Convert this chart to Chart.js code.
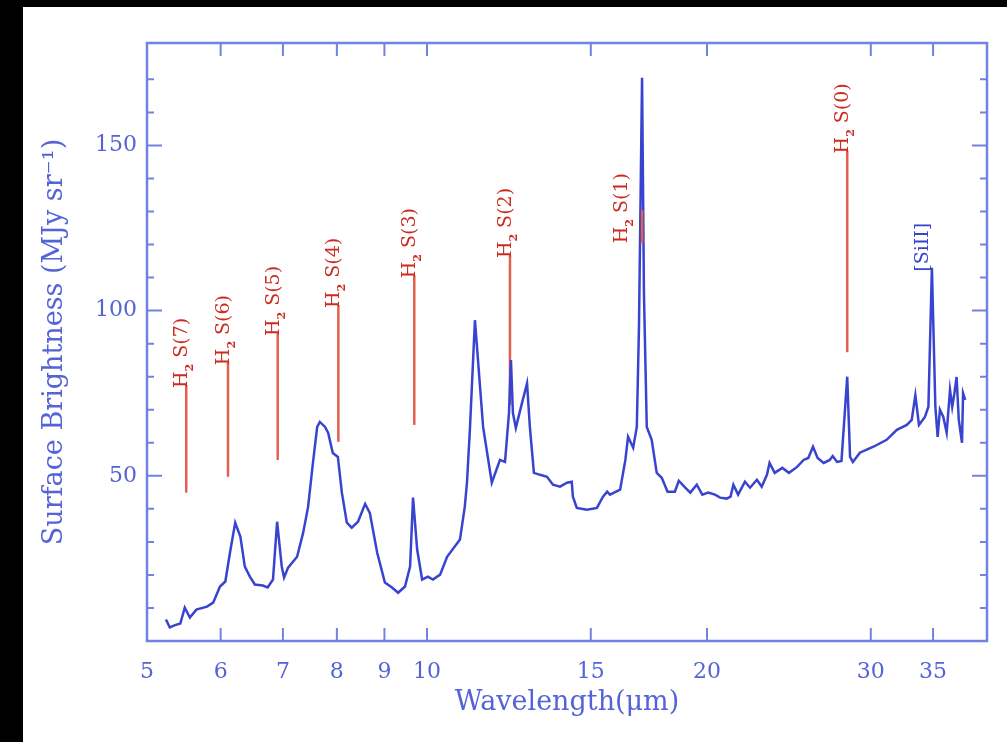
<!DOCTYPE html>
<html>
<head>
<meta charset="utf-8">
<script src="https://cdn.jsdelivr.net/npm/chart.js@4/dist/chart.umd.min.js"></script>
<style>
  html, body { margin: 0; padding: 0; background: #000; overflow: hidden; }
  #box { position: absolute; left: 23px; top: 7px; width: 984px; height: 735px; background: #fff; }
</style>
</head>
<body>
<div id="box"><canvas id="chart" width="984" height="735"></canvas></div>
<script>
// spectrum
const wavelength = [
  5.24, 5.29, 5.36, 5.43, 5.49, 5.56, 5.65, 5.80, 5.89, 5.99, 6.07, 6.14, 6.22, 6.30, 6.37, 6.45,
  6.53, 6.66, 6.74, 6.83, 6.90, 6.98, 7.02, 7.09, 7.25, 7.36, 7.45, 7.54, 7.62, 7.67, 7.77, 7.83,
  7.92, 8.02, 8.10, 8.20, 8.30, 8.43, 8.58, 8.68, 8.84, 9.01, 9.17, 9.31, 9.47, 9.59, 9.66, 9.76,
  9.88, 10.02, 10.15, 10.33, 10.51, 10.85, 10.98, 11.04, 11.12, 11.26, 11.49, 11.74, 11.98, 12.13,
  12.25, 12.31, 12.37, 12.46, 12.65, 12.81, 12.90, 13.03, 13.23, 13.46, 13.66, 13.90, 14.14, 14.31,
  14.35, 14.49, 14.86, 15.23, 15.46, 15.62, 15.73, 16.13, 16.34, 16.45, 16.66, 16.81, 16.90, 17.03,
  17.11, 17.23, 17.44, 17.66, 17.88, 18.14, 18.47, 18.65, 18.95, 19.19, 19.5, 19.77, 20.06, 20.4,
  20.66, 21.0, 21.2, 21.35, 21.6, 21.97, 22.25, 22.63, 22.9, 23.2, 23.35, 23.65, 24.1, 24.5, 25.0,
  25.4, 25.7, 26.0, 26.3, 26.7, 27.1, 27.3, 27.6, 27.9, 28.3, 28.5, 28.7, 29.2, 30.2, 31.2, 32.0,
  32.8, 33.2, 33.5, 33.8, 34.3, 34.6, 34.9, 35.2, 35.4, 35.6, 35.9, 36.2, 36.5, 36.7, 36.9, 37.1,
  37.3, 37.6, 37.7, 37.9
];
const brightness = [
  6.5, 4.1, 4.8, 5.3, 10.1, 7.1, 9.5, 10.4, 11.6, 16.5, 18.0, 26.7, 35.8, 31.6, 22.5, 19.5,
  17.1, 16.8, 16.2, 18.6, 36.1, 22.5, 19.2, 22.2, 25.5, 32.8, 40.6, 53.9, 64.8, 66.3, 64.8, 63.0,
  56.9, 55.7, 44.9, 35.8, 34.3, 36.1, 41.5, 38.8, 26.7, 17.7, 16.2, 14.6, 16.5, 22.5, 43.4, 27.6,
  18.6, 19.5, 18.6, 20.1, 25.5, 30.7, 40.6, 47.9, 63.9, 97.1, 64.8, 47.9, 54.8, 54.2,
  69, 85, 69, 64.5, 72, 78, 64.8, 50.9, 50.3, 49.7, 47.3, 46.7, 47.9, 48.2,
  43.7, 40.3, 39.7, 40.3, 43.7, 45.2, 44.3, 45.8, 54.8, 61.8, 58.5, 64.8, 95, 170.5,
  105, 64.8, 60.9, 50.9, 49.4, 45.2, 45.2, 48.5, 46.4, 44.9, 47.3, 44.3, 44.9, 44.3,
  43.4, 43.1, 43.7, 47.3, 44.3, 48.2, 46.4, 48.8, 46.7, 50.3, 53.9, 50.9, 52.4, 50.9, 52.7,
  54.8, 55.4, 58.8, 55.4, 53.9, 54.8, 56.0, 54.2, 54.5, 80, 55.7, 54.2, 57, 58.8, 60.9, 63.9,
  65.4, 66.9, 74.4, 65.4, 67.8, 70.9, 113, 70.9, 61.8, 70, 67.8, 63, 76, 70.9, 75, 79.9,
  67, 60, 75, 73
];

// H2 line markers
const h2Names = ['S(7)', 'S(6)', 'S(5)', 'S(4)', 'S(3)', 'S(2)', 'S(1)', 'S(0)'];
const h2Wave = [5.51, 6.11, 6.91, 8.03, 9.69, 12.28, 17.03, 28.3];
const h2Low = [44.9, 49.7, 54.8, 60.3, 65.4, 71.5, 120.4, 87.4];
const h2High = [77.5, 84.4, 93.2, 101.7, 110.7, 116.8, 130.4, 148.5];

const siiName = '[SiII]';
const siiWave = 34.9;
const siiTop = 113;

const xTicks = [5, 6, 7, 8, 9, 10, 15, 20, 30, 35];
const yTicks = [10, 20, 30, 40, 50, 60, 70, 80, 90, 100, 110, 120, 130, 140, 150, 160, 170];

const axisColor = 'rgb(112,130,228)';
const textColor = 'rgb(84,100,214)';
const specColor = 'rgb(56,68,208)';
const redLine = 'rgb(226,96,76)';
const redText = 'rgb(204,44,32)';
const serif = '"DejaVu Serif", "Liberation Serif", serif';

const spectrum = wavelength.map((w, i) => ({ x: w, y: brightness[i] }));

const markerSets = h2Names.map((n, i) => ({
  label: 'H2 ' + n,
  data: [{ x: h2Wave[i], y: h2Low[i] }, { x: h2Wave[i], y: h2High[i] }],
  borderColor: redLine,
  borderWidth: 2.5,
  pointRadius: 0,
  order: i === 6 ? 0 : 2
}));

const frameTicks = {
  id: 'frameTicks',
  afterDatasetsDraw(chart) {
    const { ctx, chartArea: a, scales: { x, y } } = chart;
    ctx.save();
    ctx.strokeStyle = axisColor;
    ctx.lineWidth = 2.5;
    ctx.strokeRect(a.left, a.top, a.right - a.left, a.bottom - a.top);
    ctx.lineWidth = 2;
    ctx.beginPath();
    x.ticks.forEach((t) => {
      const px = x.getPixelForValue(t.value);
      ctx.moveTo(px, a.bottom); ctx.lineTo(px, a.bottom - 13);
      ctx.moveTo(px, a.top); ctx.lineTo(px, a.top + 13);
    });
    y.ticks.forEach((t) => {
      const len = t.value % 50 === 0 ? 15 : 7;
      const py = y.getPixelForValue(t.value);
      ctx.moveTo(a.left, py); ctx.lineTo(a.left + len, py);
      ctx.moveTo(a.right, py); ctx.lineTo(a.right - len, py);
    });
    ctx.stroke();

    // rotated line labels
    const drawLabel = (px, py, name, withH2, color) => {
      ctx.save();
      ctx.translate(px, py);
      ctx.rotate(-Math.PI / 2);
      ctx.fillStyle = color;
      ctx.textBaseline = 'middle';
      ctx.textAlign = 'left';
      let cx = 0;
      if (withH2) {
        ctx.font = '19px ' + serif;
        ctx.fillText('H', 0, -4);
        cx += ctx.measureText('H').width;
        ctx.font = 'bold 11px ' + serif;
        ctx.fillText('2', cx, 4);
        cx += ctx.measureText('2').width + 6;
      }
      ctx.font = '19px ' + serif;
      ctx.fillText(name, cx, -4);
      ctx.restore();
    };
    h2Names.forEach((n, i) => {
      let px = x.getPixelForValue(h2Wave[i]);
      let py = y.getPixelForValue(h2High[i]) + 3;
      if (n === 'S(1)') { px -= 16; py = y.getPixelForValue(h2Low[i]); }
      drawLabel(px, py, n, true, redText);
    });
    drawLabel(x.getPixelForValue(siiWave) - 5, y.getPixelForValue(siiTop) + 4, siiName, false, specColor);
    ctx.restore();
  }
};

new Chart(document.getElementById('chart'), {
  type: 'line',
  data: {
    datasets: [{
      label: 'spectrum',
      data: spectrum,
      borderColor: specColor,
      borderWidth: 2.5,
      pointRadius: 0,
      tension: 0,
      order: 1
    }].concat(markerSets)
  },
  options: {
    responsive: false,
    animation: false,
    layout: { padding: { top: 36, right: 20, left: 0, bottom: 0 } },
    plugins: { legend: { display: false }, tooltip: { enabled: false } },
    scales: {
      x: {
        type: 'logarithmic',
        min: 5,
        max: 40,
        afterBuildTicks: (s) => { s.ticks = xTicks.map((v) => ({ value: v })); },
        afterFit: (s) => { s.height = 101; },
        grid: { display: false, drawTicks: false },
        border: { display: false },
        ticks: {
          autoSkip: false,
          maxRotation: 0,
          padding: 18,
          color: textColor,
          font: { family: serif, size: 22 },
          callback: (v) => String(v)
        },
        title: {
          display: true,
          text: 'Wavelength(μm)',
          color: textColor,
          font: { family: serif, size: 27 },
          padding: { top: 0, bottom: 23 }
        }
      },
      y: {
        min: 0,
        max: 181,
        afterBuildTicks: (s) => { s.ticks = yTicks.map((v) => ({ value: v })); },
        afterFit: (s) => { s.width = 124; },
        grid: { display: false, drawTicks: false },
        border: { display: false },
        ticks: {
          padding: 10,
          color: textColor,
          font: { family: serif, size: 22 },
          callback: (v) => (v % 50 === 0 ? String(v) : '')
        },
        title: {
          display: true,
          text: 'Surface Brightness (MJy sr⁻¹)',
          color: textColor,
          font: { family: serif, size: 27 },
          padding: { top: 16, bottom: 0 }
        }
      }
    }
  },
  plugins: [frameTicks]
});
</script>
</body>
</html>
